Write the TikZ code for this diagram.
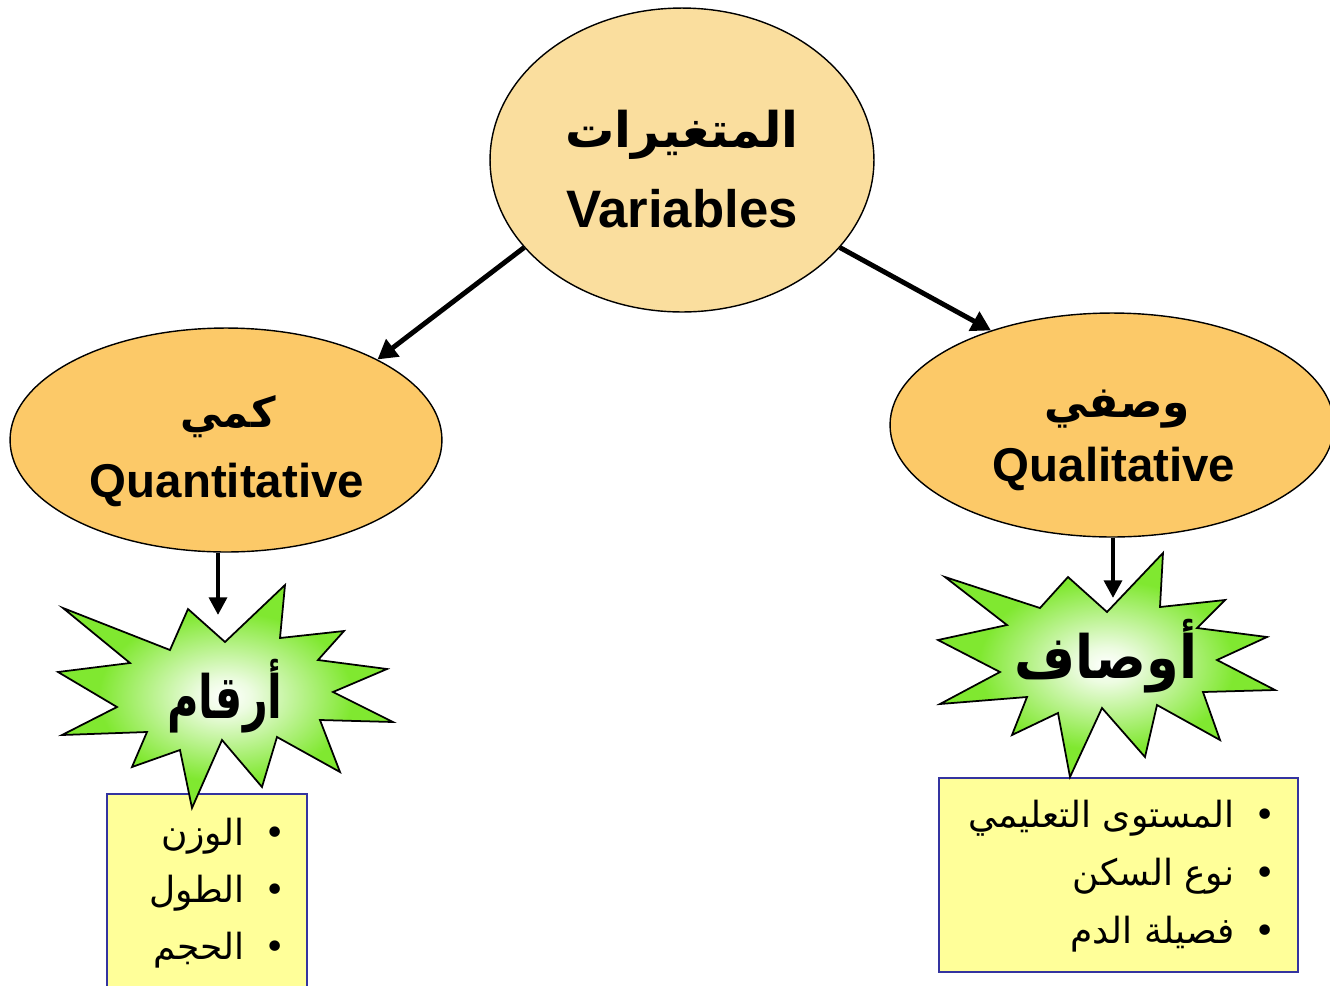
\documentclass[tikz,border=0pt]{standalone}
\usepackage{fontspec}
\setmainfont{Liberation Sans}
\newfontfamily\arabicfont[Script=Arabic]{DejaVu Sans}
\TeXXeTstate=1
\usetikzlibrary{arrows.meta,shapes.geometric}

\definecolor{topfill}{RGB}{250,222,158}
\definecolor{subfill}{RGB}{252,201,104}
\definecolor{burstgreen}{RGB}{128,232,48}
\definecolor{notefill}{RGB}{255,255,153}
\definecolor{noteedge}{RGB}{52,52,160}

\pgfdeclareradialshading{burstshade}{\pgfpoint{0bp}{0bp}}{%
  color(0bp)=(white); color(4bp)=(white!85!burstgreen);
  color(19bp)=(burstgreen); color(50bp)=(burstgreen)}

\tikzset{
  bubble/.style={ellipse, draw=black, line width=0.8pt, inner sep=0pt},
  conn/.style={line width=2.8pt, -{Triangle[length=11pt,width=12pt]}},
  drop/.style={line width=2.4pt, -{Triangle[length=10pt,width=10pt]}},
  burst/.style={draw=black, line width=1pt, line join=miter, shading=burstshade},
  notebox/.style={draw=noteedge, line width=1.2pt, fill=notefill},
  enlabel/.style={anchor=base, font=\bfseries\fontsize{27}{30}\selectfont},
  arlabel/.style={anchor=base, font=\arabicfont\bfseries\fontsize{28}{32}\selectfont},
  burstlabel/.style={anchor=base, font=\arabicfont\bfseries\fontsize{34}{38}\selectfont},
  itemline/.style={anchor=base east, font=\arabicfont\fontsize{20.5}{25}\selectfont, inner sep=0pt},
}

\begin{document}
\begin{tikzpicture}[x=0.02cm, y=-0.02cm]
\clip (0,0) rectangle (1330,985);

% three ovals
\node[bubble, fill=topfill, minimum width=7.68cm, minimum height=6.08cm] (main) at (682,160) {};
\node[bubble, fill=subfill, minimum width=8.64cm, minimum height=4.48cm] (quant) at (226,440) {};
\node[bubble, fill=subfill, minimum width=8.88cm, minimum height=4.48cm] (qual) at (1112,425) {};

\node[arlabel] (mainar) at (682,147) {\beginR المتغيرات\endR};
\node[enlabel, font=\bfseries\fontsize{30}{34}\selectfont] (mainen) at (682,227) {Variables};
\node[arlabel, font=\arabicfont\bfseries\fontsize{24}{28}\selectfont] (quantar) at (228,427) {\beginR كمي\endR};
\node[enlabel] (quanten) at (227,497) {Quantitative};
\node[arlabel, font=\arabicfont\bfseries\fontsize{25}{28}\selectfont] (qualar) at (1117,417) {\beginR وصفي\endR};
\node[enlabel] (qualen) at (1114,481) {Qualitative};

% note boxes with the examples
\node[notebox, minimum width=4.0cm, minimum height=4.6cm, anchor=north west] (lbox) at (106,793) {};
\node[notebox, minimum width=7.18cm, minimum height=3.88cm, anchor=north west] (rbox) at (938,777) {};

\node[itemline] (l1) at (286,845) {\beginR •\hspace{0.55em}الوزن\endR};
\node[itemline] (l2) at (286,902) {\beginR •\hspace{0.55em}الطول\endR};
\node[itemline] (l3) at (286,959) {\beginR •\hspace{0.55em}الحجم\endR};
\node[itemline] (r1) at (1276,827) {\beginR •\hspace{0.55em}المستوى التعليمي\endR};
\node[itemline] (r2) at (1276,885) {\beginR •\hspace{0.55em}نوع السكن\endR};
\node[itemline] (r3) at (1276,943) {\beginR •\hspace{0.55em}فصيلة الدم\endR};

% starbursts
\path[burst] (63,608) -- (170,650) -- (188,609) -- (225,642) -- (285,585)
  -- (280,638) -- (344,631) -- (318,660) -- (387,669) -- (333,692)
  -- (393,722) -- (320,720) -- (340,772) -- (277,737) -- (262,787)
  -- (222,740) -- (192,808) -- (180,750) -- (132,767) -- (147,732)
  -- (62,735) -- (117,707) -- (58,672) -- (130,663) -- cycle;
\path[burst] (945,577) -- (1040,608) -- (1068,577) -- (1107,612) -- (1163,553)
  -- (1160,607) -- (1225,600) -- (1197,628) -- (1267,637) -- (1217,660)
  -- (1275,690) -- (1203,692) -- (1220,740) -- (1157,705) -- (1145,757)
  -- (1102,708) -- (1070,777) -- (1058,713) -- (1012,735) -- (1027,697)
  -- (940,704) -- (1000,672) -- (938,640) -- (1007,625) -- cycle;

\node[burstlabel] (numbers) at (225,718) {\scalebox{0.72}[1]{\beginR أرقام\endR}};
\node[burstlabel] (traits) at (1106,678) {\scalebox{0.88}[1]{\beginR أوصاف\endR}};

\coordinate (ltop) at (218,615);
\coordinate (rtop) at (1113,598);

% connectors
\draw[conn] (main.209.4) -- (quant.28);
\draw[conn] (main.331.1) -- (qual.142.3);
\draw[drop] (quant.south -| ltop) -- (ltop);
\draw[drop] (qual.south -| rtop) -- (rtop);
\end{tikzpicture}
\end{document}
